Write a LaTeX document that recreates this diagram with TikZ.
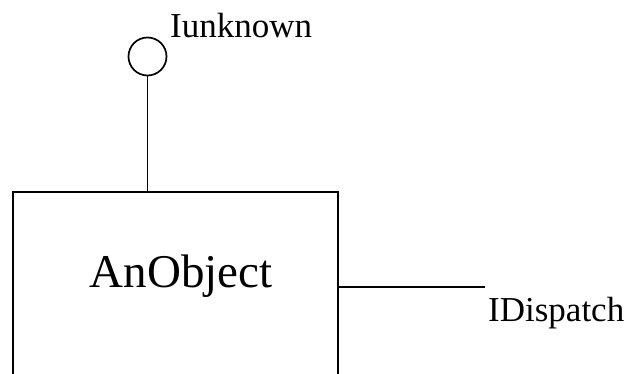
\documentclass[tikz,border=0pt]{standalone}
\usepackage{fontspec}
\setmainfont{Liberation Serif}
\begin{document}
\begin{tikzpicture}[x=1pt,y=-1pt,
  ln/.style={line width=1.7pt,black},
  lblsmall/.style={inner sep=0pt,anchor=base west,font=\fontsize{35}{40}\selectfont},
  lblbig/.style={inner sep=0pt,anchor=base,font=\fontsize{47}{54}\selectfont}]
\useasboundingbox[fill=white] (0,0) rectangle (630,374);
\node[ln,draw,rectangle,minimum width=325pt,minimum height=200pt,inner sep=0pt] (obj) at (175.5,292) {};
\node[ln,draw,circle,minimum size=38pt,inner sep=0pt] (circ) at (147.5,56.5) {};
\draw[ln] (circ.south) -- (circ.south |- obj.north);
\node[lblsmall] (iu) at (170,38) {Iunknown};
\node[lblbig] (ao) at (181,288) {AnObject};
\coordinate (lend) at (485,287);
\draw[ln] (obj.east |- lend) -- (lend);
\node[lblsmall] (idp) at (488,322) {IDispatch};
\end{tikzpicture}
\end{document}
